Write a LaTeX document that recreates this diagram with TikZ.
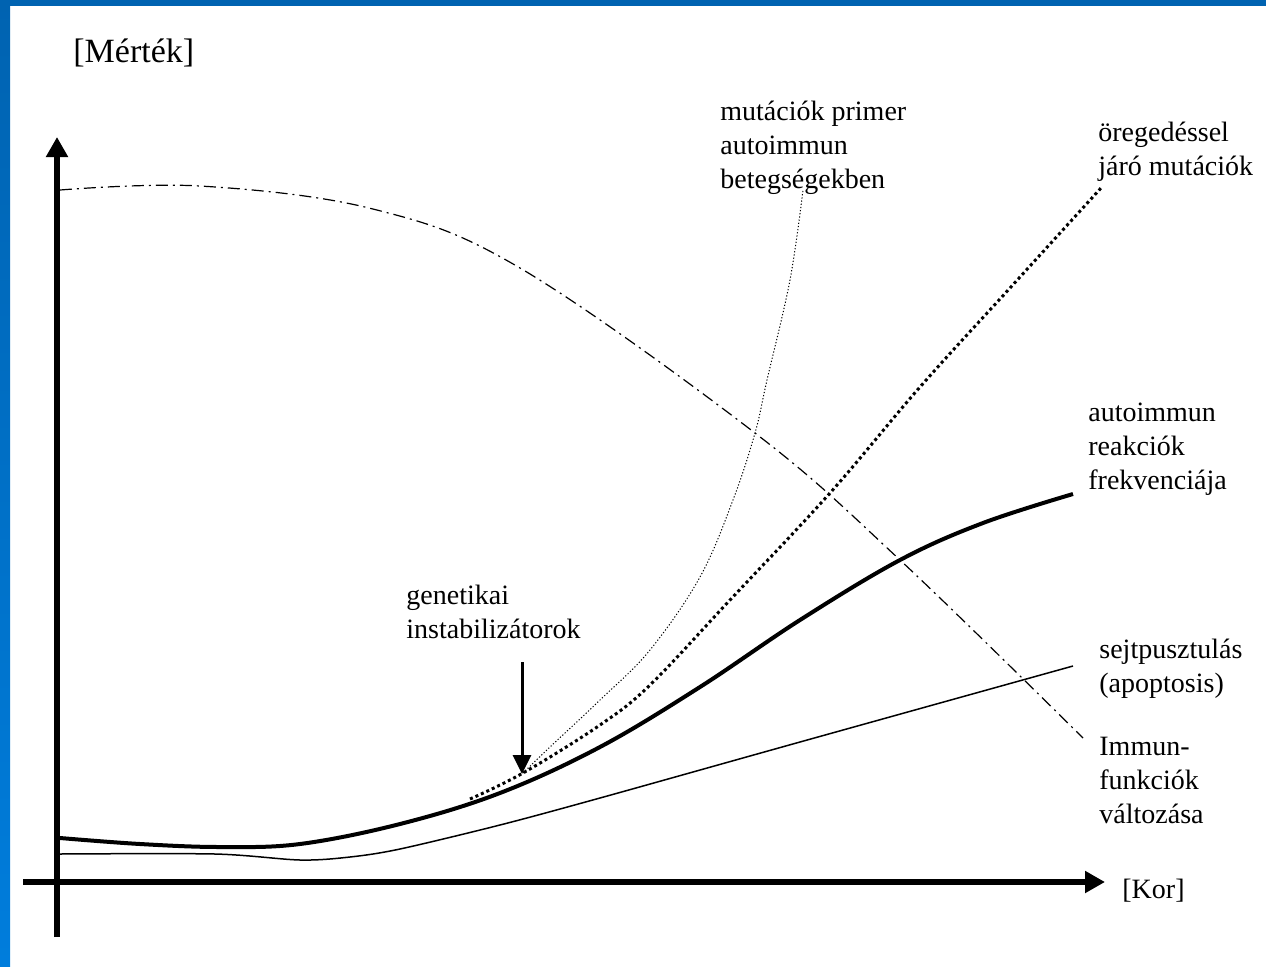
\documentclass[tikz,border=0pt]{standalone}
\usepackage{fontspec}
\setmainfont{Liberation Serif}
\usetikzlibrary{arrows.meta}
\definecolor{frameblue}{RGB}{0,99,177}
\definecolor{frameblue2}{RGB}{0,125,220}
\tikzset{
  lbl/.style={inner sep=0pt, anchor=base west, align=left, font=\fontsize{14}{17}\selectfont},
  axis/.style={line width=3pt, -{Triangle[width=10.5pt,length=10pt]}},
  immun/.style={line width=0.6pt, dash pattern=on 6pt off 2.5pt on 1pt off 2.5pt},
  reakcio/.style={line width=2pt},
  apopt/.style={line width=0.75pt},
  oregmut/.style={line width=1.5pt, dash pattern=on 1.5pt off 1.5pt},
  primmut/.style={line width=0.5pt, dash pattern=on 0.6pt off 1pt}
}
\begin{document}
\begin{tikzpicture}[x=0.5pt,y=-0.5pt]
\useasboundingbox (0,0) rectangle (1266,966);
\fill[frameblue] (0,0) rectangle (1266,6);
\shade[top color=frameblue, bottom color=frameblue2] (0,0) rectangle (10,966);

% axes
\coordinate (ybot) at (57,937);
\coordinate (ytop) at (57,137);
\coordinate (xleft) at (23,882);
\coordinate (xright) at (1105,882);
\draw[axis] (ybot) -- (ytop);
\draw[axis] (xleft) -- (xright);

\node[lbl, font=\fontsize{17}{20}\selectfont] (mertek) at (73,62) {[Mérték]};
\node[lbl] (kor) at (1122,898) {[Kor]};

% labels (base = last line)
\node[lbl] (primer) at (720,188) {mutációk primer\\autoimmun\\betegségekben};
\node[lbl] (oreg) at (1098,175) {öregedéssel\\járó mutációk};
\node[lbl] (reakc) at (1088,489) {autoimmun\\reakciók\\frekvenciája};
\node[lbl] (apop) at (1099,692) {sejtpusztulás\\(apoptosis)};
\node[lbl] (immun) at (1099,823) {Immun-\\funkciók\\változása};
\node[lbl] (genet) at (406,638) {genetikai\\instabilizátorok};

% curves
\draw[immun] plot[smooth, tension=0.6] coordinates {(60,190) (200,186) (373,209)
  (520,268) (755,433) (900,560) (1083,738)};
\draw[reakcio] plot[smooth, tension=0.6] coordinates {(60,838) (140,844) (220,847)
  (300,844) (400,824) (500,793) (600,747) (700,687) (800,620) (900,560) (983,523) (1073,494)};
\draw[apopt] plot[smooth, tension=0.5] coordinates {(60,854) (215,854) (300,860)
  (350,857) (400,849) (500,825) (600,798) (800,742) (1073,666)};
\draw[oregmut] plot[smooth, tension=0.6] coordinates {(470,799) (523,773) (600,725)
  (650,685) (730,600) (830,493) (920,387) (1010,288) (1101,188)};
\draw[primmut] plot[smooth, tension=0.6] coordinates {(523,773) (550,747) (600,700)
  (650,650) (700,577) (733,500) (755,433) (767,380) (790,280) (803,190)};

% genetikai instabilizatorok
\coordinate (gtop) at (522,662);
\coordinate (gtip) at (522,774);
\draw[line width=1.5pt, -{Triangle[width=9pt,length=9.5pt]}] (gtop) -- (gtip);
\end{tikzpicture}
\end{document}
